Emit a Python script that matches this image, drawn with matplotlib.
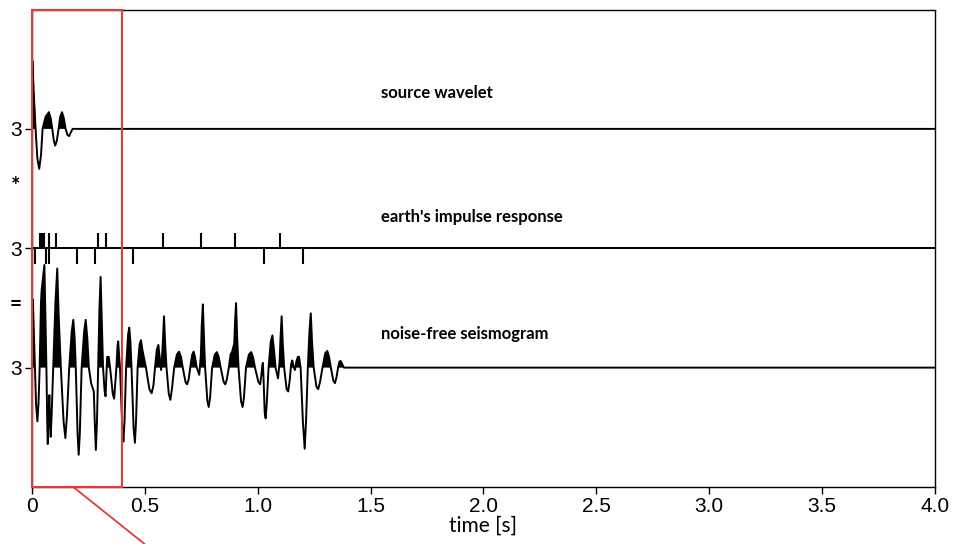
import matplotlib
matplotlib.use("Agg")
import matplotlib.pyplot as plt
import matplotlib.transforms as mtransforms
import numpy as np

# source wavelet (time [s], amplitude)
wavelet_t = [0.0, 0.0005, 0.002, 0.008, 0.016, 0.024, 0.032, 0.040, 0.047, 0.060,
             0.075, 0.083, 0.090, 0.097, 0.103, 0.110, 0.118, 0.125, 0.133, 0.141,
             0.149, 0.157, 0.165, 0.172, 0.180, 4.0]
wavelet_v = [0.0, 0.45, 0.57, 0.30, 0.0, -0.25, -0.335, -0.22, 0.0, 0.10,
             0.14, 0.09, 0.0, -0.10, -0.14, -0.10, 0.0, 0.10, 0.14, 0.09,
             0.0, -0.05, -0.06, -0.03, 0.0, 0.0]

# earth's impulse response: spike times (up / down)
spike_up = [0.001, 0.035, 0.044, 0.054, 0.074, 0.106, 0.291, 0.328, 0.579, 0.749, 0.899, 1.099]
spike_down = [0.012, 0.061, 0.075, 0.199, 0.279, 0.449, 1.029, 1.199]
spike_amp = 0.13

# noise-free seismogram
seis_t = [0.000, 0.001, 0.004, 0.009, 0.013, 0.018, 0.024, 0.029, 0.034, 0.040,
          0.043, 0.055, 0.060, 0.064, 0.068, 0.070, 0.073, 0.077, 0.080, 0.083,
          0.087, 0.094, 0.104, 0.112, 0.118, 0.128, 0.140, 0.148, 0.155, 0.165,
          0.176, 0.183, 0.189, 0.194, 0.202, 0.207, 0.212, 0.220, 0.231, 0.238,
          0.245, 0.252, 0.262, 0.274, 0.278, 0.283, 0.288, 0.293, 0.299, 0.304,
          0.309, 0.315, 0.322, 0.326, 0.330, 0.333, 0.340, 0.346, 0.358, 0.364,
          0.370, 0.374, 0.379, 0.382, 0.386, 0.390, 0.400, 0.405, 0.410, 0.417,
          0.426, 0.431, 0.436, 0.441, 0.450, 0.456, 0.461, 0.468, 0.477, 0.483,
          0.489, 0.505, 0.520, 0.530, 0.538, 0.545, 0.553, 0.560, 0.566, 0.572,
          0.578, 0.585, 0.590, 0.596, 0.606, 0.613, 0.620, 0.630, 0.642, 0.651,
          0.660, 0.668, 0.680, 0.687, 0.694, 0.701, 0.710, 0.716, 0.722, 0.730,
          0.741, 0.748, 0.752, 0.757, 0.762, 0.767, 0.777, 0.783, 0.789, 0.798,
          0.810, 0.819, 0.827, 0.836, 0.849, 0.856, 0.863, 0.872, 0.880, 0.886,
          0.896, 0.900, 0.904, 0.909, 0.915, 0.926, 0.933, 0.939, 0.948, 0.961,
          0.971, 0.979, 0.988, 1.003, 1.011, 1.017, 1.021, 1.023, 1.026, 1.031,
          1.035, 1.040, 1.048, 1.058, 1.065, 1.072, 1.079, 1.090, 1.097, 1.101,
          1.106, 1.111, 1.117, 1.128, 1.135, 1.142, 1.148, 1.153, 1.160, 1.165,
          1.171, 1.178, 1.183, 1.190, 1.200, 1.208, 1.214, 1.222, 1.229, 1.235,
          1.241, 1.248, 1.260, 1.268, 1.276, 1.287, 1.299, 1.308, 1.316, 1.324,
          1.335, 1.342, 1.349, 1.356, 1.362, 1.367, 1.374, 1.382, 4.0]
seis_v = [0.0, 0.45, 0.57, 0.25, 0.0, -0.30, -0.45, -0.30, 0.0, 0.55,
          0.65, 0.86, 0.40, 0.0, -0.50, -0.64, -0.45, -0.23, -0.45, -0.58,
          -0.40, 0.0, 0.55, 0.83, 0.45, 0.0, -0.45, -0.59, -0.40, 0.0,
          0.30, 0.40, 0.25, 0.0, -0.55, -0.73, -0.55, 0.0, 0.30, 0.40,
          0.25, 0.0, -0.13, -0.20, -0.45, -0.69, -0.45, 0.0, 0.50, 0.76,
          0.40, 0.0, -0.20, -0.24, -0.05, 0.09, 0.09, 0.0, -0.22, -0.26,
          -0.10, 0.0, 0.18, 0.22, 0.10, 0.0, -0.50, -0.62, -0.45, 0.0,
          0.28, 0.335, 0.22, 0.0, -0.50, -0.63, -0.45, 0.0, 0.20, 0.23,
          0.15, 0.0, -0.18, -0.215, -0.15, 0.0, 0.15, 0.19, 0.08, -0.02,
          0.15, 0.43, 0.20, 0.0, -0.22, -0.27, -0.18, 0.0, 0.11, 0.134,
          0.09, 0.0, -0.12, -0.14, -0.10, 0.0, 0.11, 0.134, 0.09, 0.0,
          -0.06, 0.10, 0.35, 0.53, 0.25, 0.0, -0.28, -0.33, -0.25, 0.0,
          0.11, 0.13, 0.09, 0.0, -0.12, -0.14, -0.10, 0.0, 0.11, 0.13,
          0.20, 0.40, 0.54, 0.25, 0.0, -0.28, -0.33, -0.25, 0.0, 0.11,
          0.13, 0.09, 0.0, -0.12, -0.14, -0.05, 0.03, 0.04, -0.10, -0.38,
          -0.425, -0.30, 0.0, 0.22, 0.27, 0.15, 0.0, -0.09, 0.05, 0.25,
          0.43, 0.20, 0.0, -0.18, -0.20, -0.10, 0.03, 0.06, 0.0, -0.02,
          0.05, 0.09, 0.09, 0.0, -0.45, -0.68, -0.45, 0.0, 0.30, 0.455,
          0.20, 0.0, -0.16, -0.18, -0.12, 0.0, 0.12, 0.14, 0.09, 0.0,
          -0.11, -0.13, -0.08, 0.0, 0.05, 0.056, 0.03, 0.0, 0.0]

offsets = [3, 2, 1]
labels = ["source wavelet", "earth's impulse response", "noise-free seismogram"]
label_y = [3.30, 2.26, 1.28]

fig = plt.figure(figsize=(9.57, 5.44), dpi=100)
ax = fig.add_axes([0.0334, 0.1048, 0.9436, 0.8777])


def wiggle(t, v, off):
    t = np.array(t)
    v = np.array(v)
    ax.plot(t, off + v, color="black", lw=1.4, solid_joinstyle="round")
    ax.fill_between(t, off, off + v, where=v > 0, interpolate=True, color="black", lw=0)


wiggle(wavelet_t, wavelet_v, offsets[0])

ax.plot([0, 4.0], [offsets[1], offsets[1]], color="black", lw=1.4)
ax.vlines(spike_up, offsets[1], offsets[1] + spike_amp, color="black", lw=1.5)
ax.vlines(spike_down, offsets[1] - spike_amp, offsets[1], color="black", lw=1.5)

wiggle(seis_t, seis_v, offsets[2])

for txt, y in zip(labels, label_y):
    ax.text(1.546, y, txt, fontsize=12, fontweight="bold", family="Lato",
            ha="left", va="center")

# zoom box and its leader line
ax.add_patch(plt.Rectangle((0, 0), 0.4, 4.0, fill=False, edgecolor="#e63a3f", lw=1.5,
                           clip_on=False, zorder=5))
ax.plot([0.183, 0.56], [0, -0.57], color="#e63a3f", lw=1.3, clip_on=False, zorder=5)

ax.set_xlim(0, 4.0)
ax.set_ylim(0, 4.0)
ax.set_xticks([0, 0.5, 1.0, 1.5, 2.0, 2.5, 3.0, 3.5, 4.0])
ax.set_xticklabels(["0", "0.5", "1.0", "1.5", "2.0", "2.5", "3.0", "3.5", "4.0"],
                   family="Liberation Sans", fontsize=15)
ax.set_yticks(offsets)
ax.set_yticklabels(["3", "3", "3"], family="Liberation Sans", fontsize=15)
ax.tick_params(direction="out", length=5, width=1, pad=2)
ax.set_xlabel("time [s]", family="Lato", fontsize=15, labelpad=0)

trans = mtransforms.blended_transform_factory(ax.transAxes, ax.transData)
ax.text(-0.0177, 2.52, "*", transform=trans, fontsize=16, fontweight="bold",
        family="Lato", ha="center", va="center")
ax.text(-0.0177, 1.53, "=", transform=trans, fontsize=15, fontweight="bold",
        family="Lato", ha="center", va="center")

for s in ax.spines.values():
    s.set_linewidth(1.0)

fig.savefig("out.png", dpi=100)
